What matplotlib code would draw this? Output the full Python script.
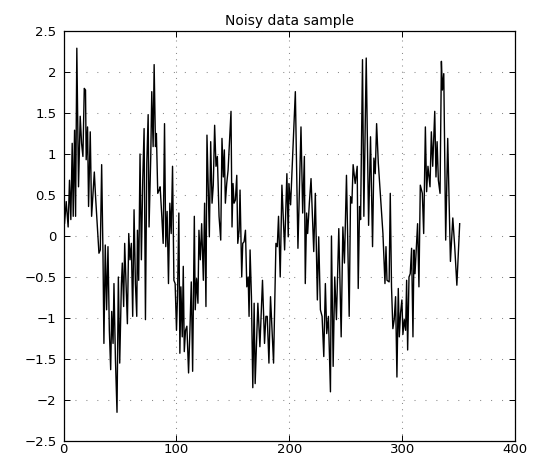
import matplotlib
matplotlib.use("Agg")
import matplotlib.pyplot as plt

# sample positions and values
x_seg1 = [0.0, 0.9, 2.4, 4.1, 5.3, 6.5, 7.7, 8.6, 9.8, 10.7, 11.8, 13.3, 14.8, 16.0, 17.2, 18.4, 19.5, 20.1,
          21.3, 22.2, 23.7, 24.9, 27.3, 28.4, 30.2, 31.4, 32.6, 33.8, 35.0, 35.8, 37.0, 38.2, 39.4, 40.6,
          41.8, 42.7, 43.9, 44.7, 46.0, 47.4, 48.6, 49.8, 51.3, 52.1, 53.3]
y_seg1 = [0.68, 0.15, 0.42, 0.11, 0.68, 0.2, 1.13, 0.24, 1.29, 0.24, 2.29, 0.6, 1.46, 1.13, 0.97, 1.8, 1.78, 0.93,
          1.33, 0.36, 1.27, 0.24, 0.78, 0.48, 0.07, -0.21, -0.17, 0.87, -0.25, -1.31, -0.11, -0.9, -0.13, -1.15,
          -1.63, -0.92, -1.31, -0.58, -1.5, -2.15, -0.5, -1.55, -0.58, -0.33, -0.86]

x_seg2 = [54.2, 56.6, 57.8, 58.9, 60.1, 61.3, 62.5, 63.7, 64.9, 65.5, 66.6, 67.8, 69.0, 70.2, 71.4, 72.6, 73.8,
          75.0, 75.8, 77.3, 78.2, 79.4, 80.3, 81.5, 82.3, 83.5, 84.7, 85.6, 87.1, 88.3, 89.5, 90.6, 91.8, 93.0,
          94.2, 95.4, 96.6, 97.8, 98.9, 100.1, 101.0, 102.2, 103.1, 104.0, 105.2, 106.1, 107.0, 108.1, 109.3,
          110.8, 112.0]
y_seg2 = [-0.09, -1.07, 0.03, -0.29, -0.09, -0.98, 0.32, -0.58, -0.98, 0.07, -0.54, 1.0, -0.29, 0.68, 1.31, -1.02,
          0.89, 1.48, 0.11, 0.97, 1.76, 1.09, 2.09, 1.09, 1.25, 0.52, 0.56, 0.6, 0.24, -0.09, 1.37, -0.13, 0.3,
          -0.58, 0.4, 0.03, 0.85, -0.54, -0.58, -1.15, -0.74, 0.28, -1.43, -0.62, -1.23, -0.37, -1.41, -1.15, -1.1,
          -1.67, -1.15]

x_seg3 = [113.2, 114.4, 115.9, 116.7, 117.9, 119.1, 120.0, 121.2, 122.4, 123.9, 125.0, 126.2, 127.1, 128.3,
          129.2, 130.4, 131.6, 132.7, 133.9, 135.1, 136.3, 137.8, 139.3, 140.4, 141.6, 142.5, 143.4, 144.6,
          145.8, 148.4, 149.3, 150.2, 151.1, 152.3, 153.5, 154.4, 155.6, 156.4, 157.9, 158.8, 160.0, 161.2,
          162.4, 163.6, 164.4, 165.3, 166.5, 167.7, 168.9]
y_seg3 = [-0.56, -1.65, 0.24, -0.9, -0.52, -0.82, 0.07, -0.29, 0.15, -0.54, 0.4, -0.86, 1.23, 0.56, -0.01, 1.15,
          0.4, 0.62, 1.35, 0.85, 0.97, 0.24, -0.05, 1.19, 0.72, 1.05, 0.4, 0.64, 0.8, 1.52, 0.11, 0.64, 0.4, 0.44,
          0.74, -0.09, 0.07, 0.56, -0.5, -0.09, -0.07, 0.07, -0.62, -0.5, -0.98, -0.17, -0.74, -1.85, -0.82]

x_seg4 = [169.8, 172.2, 174.0, 176.3, 178.1, 179.3, 180.5, 182.0, 183.4, 186.1, 188.2, 189.4, 190.5, 192.0,
          193.5, 195.9, 197.9, 199.1, 199.7, 201.2, 205.4, 207.7, 210.4, 211.9, 213.4, 214.2, 215.4, 216.3,
          217.8, 219.3, 221.7, 223.1, 224.9, 226.1, 227.6]
y_seg4 = [-1.8, -0.82, -1.35, -0.54, -1.31, -0.98, -0.98, -1.55, -0.74, -1.55, -0.09, -0.13, 0.24, -0.5, 0.62,
          -0.17, 0.76, -0.01, 0.64, 0.38, 1.76, -0.15, 1.33, 0.28, 0.97, -0.58, 0.28, 0.03, 0.4, 0.7, -0.19, 0.52,
          -0.78, -0.01, -0.9]

x_seg5 = [229.1, 230.6, 232.0, 233.2, 234.7, 236.5, 237.4, 238.9, 240.3, 241.8, 243.9, 246.0, 247.5, 248.9,
          250.7, 253.1, 254.3, 255.5, 256.6, 258.4, 260.2, 261.1, 262.3, 263.2, 264.9, 266.1, 268.2, 270.3,
          272.0, 273.8, 275.0, 276.2, 277.4, 278.9, 280.9, 283.0, 284.8, 285.7]
y_seg5 = [-0.98, -1.47, -0.58, -1.19, -0.98, -1.9, 0.0, -1.59, -0.5, -1.02, 0.09, -1.23, 0.11, -0.33, 0.74,
          -0.98, 0.48, 0.4, 0.87, 0.64, 0.85, -0.64, 0.36, 0.2, 2.15, 0.24, 2.17, 0.13, 1.21, -0.13, 0.95, 0.76,
          1.37, 0.89, 0.48, 0.03, -0.58, -0.13]

x_seg6 = [286.6, 288.5, 289.5, 290.6, 291.8, 293.0, 294.2, 295.4, 296.6, 297.5, 298.6, 299.8, 300.7, 301.9,
          303.1, 304.0, 304.9, 306.1, 307.2, 308.4, 309.6, 310.5, 311.4, 312.6, 313.7, 314.9, 316.1, 317.9,
          319.1, 320.6, 321.7, 322.9, 324.7, 325.9, 327.1, 328.9, 330.0, 331.0, 332.1, 333.6, 334.8, 335.7,
          336.9, 338.6, 340.4, 342.8, 344.9, 346.6, 348.5, 351.0]
y_seg6 = [-0.54, -0.56, 0.52, -0.62, -1.13, -1.02, -0.74, -1.72, -0.64, -1.23, -0.94, -0.78, -1.2, -1.02, -1.15,
          -0.54, -1.39, -0.5, -0.46, -0.15, -1.23, -0.17, -0.46, -0.13, 0.15, -0.62, 0.62, 0.52, 0.03, 1.33, 0.54,
          0.85, 0.6, 1.27, 0.85, 1.52, 0.72, 1.15, 0.68, 0.52, 2.13, 1.78, 1.98, -0.05, 1.19, -0.31, 0.22, -0.13,
          -0.6, 0.15]

x_ticks = [0, 100, 200, 300, 400]
y_ticks = [-2.5, -2, -1.5, -1, -0.5, 0, 0.5, 1, 1.5, 2, 2.5]
y_tick_labels = ["\u22122.5", "\u22122", "\u22121.5", "\u22121", "\u22120.5", "0", "0.5", "1", "1.5", "2", "2.5"]
title = "Noisy data sample"

xs = x_seg1 + x_seg2 + x_seg3 + x_seg4 + x_seg5 + x_seg6
ys = y_seg1 + y_seg2 + y_seg3 + y_seg4 + y_seg5 + y_seg6

plt.rcParams['font.family'] = ['DejaVu Sans']
fig = plt.figure(figsize=(5.35, 4.59), dpi=100)
ax = fig.add_axes([0.1187, 0.0392, 0.8439, 0.8933])
ax.plot(xs, ys, color='black', linewidth=1.0)
ax.set_xlim(0, 400)
ax.set_ylim(-2.5, 2.5)
ax.set_xticks(x_ticks)
ax.set_yticks(y_ticks)
ax.set_yticklabels(y_tick_labels)
ax.xaxis.grid(True, color='#8a8a8a', linestyle=(0, (1, 5)), linewidth=0.75)
ax.yaxis.grid(True, color='#8a8a8a', linestyle=(0, (1, 9.5)), linewidth=0.75)
ax.set_axisbelow(True)
ax.tick_params(direction='in', top=True, right=True, length=4, width=0.7, labelsize=9.5)
ax.tick_params(axis='x', pad=1.5)
ax.tick_params(axis='y', pad=5)
for s in ax.spines.values():
    s.set_linewidth(0.9)
ax.set_title(title, fontsize=10, pad=4)
fig.savefig("out.png", dpi=100)
